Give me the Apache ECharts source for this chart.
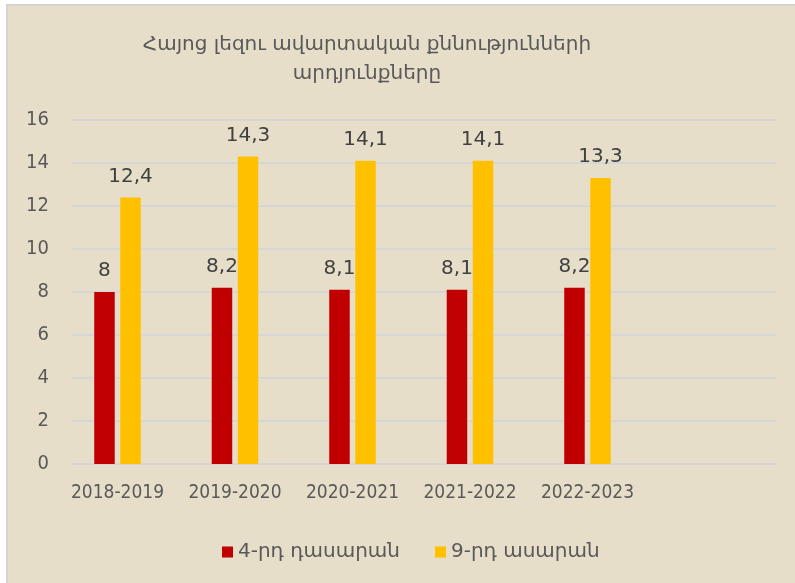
<!DOCTYPE html>
<html lang="hy" style="height: 100%">
<head>
  <meta charset="utf-8">
</head>
<body style="height: 100%; margin: 0; background: #ffffff">
  <div id="container" style="width: 795px; height: 583px"></div>

  <script src="https://cdn.jsdelivr.net/npm/echarts@6/dist/echarts.min.js" type="text/javascript"></script>

  <script>
    // data
    var years = ['2018-2019', '2019-2020', '2020-2021', '2021-2022', '2022-2023'];
    var grade4 = [8, 8.2, 8.1, 8.1, 8.2];
    var grade9 = [12.4, 14.3, 14.1, 14.1, 13.3];
    var seriesNames = ['4-րդ դասարան', '9-րդ ասարան'];
    var titleText = 'Հայոց լեզու ավարտական քննությունների\nարդյունքները';

    var font = 'DejaVu Sans';
    var axisFont = 'DejaVu Sans Condensed';
    var dom = document.getElementById('container');
    var myChart = echarts.init(dom, null, { renderer: 'canvas' });

    // comma as decimal mark
    function fmt(p) {
      return String(p.value).replace('.', ',');
    }

    var labelStyle = {
      show: true,
      position: 'top',
      distance: 11,
      formatter: fmt,
      fontFamily: font,
      fontSize: 20,
      color: '#404040'
    };

    var option = {
      backgroundColor: '#ffffff',
      textStyle: { fontFamily: font },
      graphic: [
        {
          type: 'rect',
          z: -10,
          shape: { x: 7, y: 5, width: 800, height: 590 },
          style: { fill: '#e7dec9', stroke: '#d4d4d4', lineWidth: 2 }
        }
      ],
      title: {
        text: titleText,
        left: 362,
        textAlign: 'center',
        top: 25,
        textStyle: {
          fontFamily: font,
          fontSize: 20,
          fontWeight: 'normal',
          color: '#595959',
          lineHeight: 29
        }
      },
      legend: {
        top: 537,
        left: 217,
        icon: 'rect',
        itemWidth: 11,
        itemHeight: 11,
        itemGap: 35,
        textStyle: { fontFamily: font, fontSize: 20, color: '#595959' },
        data: seriesNames
      },
      grid: [
        { left: 72, right: 19, top: 120, bottom: 119 },
        { left: 58.75, width: 587.5, top: 120, bottom: 119 }
      ],
      xAxis: [
        { type: 'value', gridIndex: 0, show: false, min: 0, max: 1 },
        {
          type: 'category',
          gridIndex: 1,
          data: years,
          axisLine: { show: false },
          axisTick: { show: false },
          axisLabel: { interval: 0, fontFamily: axisFont, fontSize: 19, color: '#595959', margin: 20 }
        }
      ],
      yAxis: [
        {
          type: 'value',
          gridIndex: 0,
          min: 0,
          max: 16,
          interval: 2,
          axisLine: { show: false },
          axisTick: { show: false },
          axisLabel: { fontFamily: axisFont, fontSize: 20, color: '#595959', margin: 23 },
          splitLine: { lineStyle: { color: '#d6d6d6', width: 2 } }
        },
        { type: 'value', gridIndex: 1, min: 0, max: 16, show: false }
      ],
      series: [
        {
          name: seriesNames[0],
          type: 'bar',
          xAxisIndex: 1,
          yAxisIndex: 1,
          data: grade4,
          barWidth: 20.5,
          barGap: '27%',
          itemStyle: { color: '#c00000' },
          label: labelStyle
        },
        {
          name: seriesNames[1],
          type: 'bar',
          xAxisIndex: 1,
          yAxisIndex: 1,
          data: grade9,
          barWidth: 20.5,
          barGap: '27%',
          itemStyle: { color: '#ffc000' },
          label: labelStyle
        }
      ]
    };

    myChart.setOption(option);
    window.addEventListener('resize', myChart.resize);
  </script>
</body>
</html>
